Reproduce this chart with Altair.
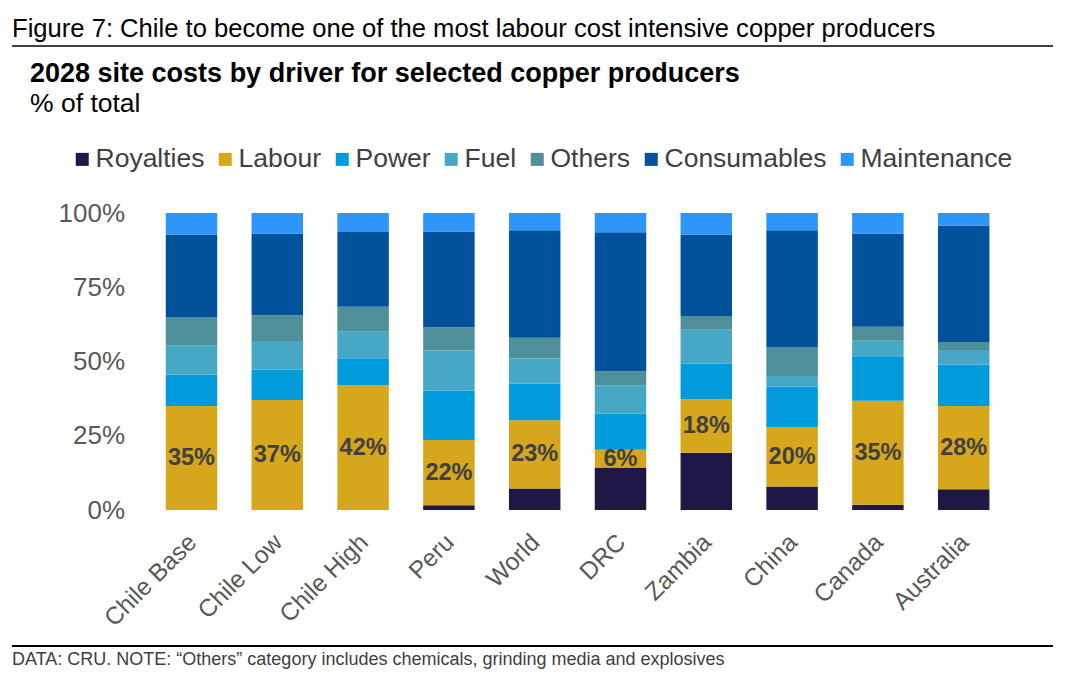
import altair as alt
import pandas as pd

countries = ["Chile Base", "Chile Low", "Chile High", "Peru", "World",
             "DRC", "Zambia", "China", "Canada", "Australia"]
drivers = ["Royalties", "Labour", "Power", "Fuel", "Others", "Consumables", "Maintenance"]
colors = ["#211746", "#D6A61C", "#009BDC", "#47A8C6", "#4E8F99", "#00529B", "#2E96F8"]

royalties   = [0.0, 0.0, 0.0, 1.6, 7.2, 14.3, 19.3, 7.9, 1.8, 7.0]
labour      = [35, 37, 42, 22, 23, 6, 18, 20, 35, 28]
power       = [10.5, 10.2, 9.1, 16.6, 12.4, 12.2, 12.0, 13.7, 15.0, 14.0]
fuel        = [10.0, 9.7, 9.1, 13.5, 8.4, 9.5, 11.4, 3.5, 5.2, 4.9]
others      = [9.3, 8.7, 8.2, 7.8, 7.0, 4.7, 4.6, 9.6, 4.7, 2.7]
consumables = [28.0, 27.4, 25.2, 32.3, 36.2, 46.8, 27.5, 39.5, 31.4, 39.2]
maintenance = [7.2, 7.0, 6.4, 6.2, 5.8, 6.5, 7.2, 5.8, 6.9, 4.2]

series = [royalties, labour, power, fuel, others, consumables, maintenance]

rows = []
for di, (d, vals) in enumerate(zip(drivers, series)):
    for c, v in zip(countries, vals):
        rows.append({"country": c, "driver": d, "order": di, "value": v})
df = pd.DataFrame(rows)

lab = pd.DataFrame({
    "country": countries,
    "labour": labour,
    "ypos": [(r + l / 2) / sum(s[i] for s in series) for i, (r, l) in enumerate(zip(royalties, labour))],
})
lab["text"] = lab["labour"].astype(str) + "%"

FONT = "Liberation Sans"
W, H = 858, 297
PL, PT = 140.6, 205
TOTW, TOTH = 1050, 664

x_enc = alt.X("country:N", sort=countries, title=None,
              scale=alt.Scale(paddingInner=0.4, paddingOuter=0.2),
              axis=alt.Axis(labelAngle=-45, labelFontSize=24.5, labelColor="#595959",
                            labelFont=FONT, domain=False, ticks=False, labelPadding=20,
                            labelOffset=-7, labelBaseline="top", labelAlign="right"))

bars = alt.Chart(df).mark_bar().encode(
    x=x_enc,
    y=alt.Y("sum(value):Q", stack="normalize", title=None,
            scale=alt.Scale(domain=[0, 1], nice=False),
            axis=alt.Axis(values=[0, 0.25, 0.5, 0.75, 1], format=".0%", labelFontSize=26,
                          labelColor="#595959", labelFont=FONT, domain=False, ticks=False,
                          grid=False, labelPadding=24)),
    color=alt.Color("driver:N", scale=alt.Scale(domain=drivers, range=colors),
                    legend=alt.Legend(title=None, orient="none", direction="horizontal",
                                      legendX=76 - 8 - PL - 7, legendY=160 - 8 - PT - 14,
                                      padding=0, symbolType="square",
                                      symbolSize=169, symbolStrokeWidth=0,
                                      labelFontSize=26.5, labelFont=FONT, labelColor="#404040",
                                      labelOffset=0, columnPadding=7, columns=7,
                                      labelLimit=400)),
    order=alt.Order("order:Q", sort="ascending"),
)

labels = alt.Chart(lab).mark_text(fontSize=23.5, fontWeight="bold", font=FONT,
                                  color="#404040", baseline="middle").encode(
    x=alt.X("country:N", sort=countries),
    y=alt.Y("ypos:Q"),
    text="text:N",
)

one = pd.DataFrame({"k": [0]})

def txt(s, x, y, size, weight="normal", color="black"):
    return alt.Chart(pd.DataFrame({"t": [s]})).mark_text(
        align="left", baseline="alphabetic", fontSize=size, fontWeight=weight,
        font=FONT, color=color).encode(x=alt.value(x), y=alt.value(y), text="t:N")

fig_title = txt("Figure 7: Chile to become one of the most labour cost intensive copper producers",
                12 - 8 - PL, 37 - 8 - PT, 25.6)
title = txt("2028 site costs by driver for selected copper producers", 30 - 8 - PL, 82 - 8 - PT, 27, "bold")
subtitle = txt("% of total", 30 - 8 - PL, 112 - 8 - PT, 26.5)
footer = txt("DATA: CRU. NOTE: \u201cOthers\u201d category includes chemicals, grinding media and explosives",
             12 - 8 - PL, 665 - 8 - PT, 18, color="#404040")

top_rule = alt.Chart(one).mark_rule(color="black", strokeWidth=1.5).encode(
    x=alt.value(12 - 8 - PL), x2=alt.value(1053 - 8 - PL), y=alt.value(46 - 8 - PT))
bot_rule = alt.Chart(one).mark_rule(color="black", strokeWidth=2).encode(
    x=alt.value(12 - 8 - PL), x2=alt.value(1053 - 8 - PL), y=alt.value(646 - 8 - PT))

chart = alt.layer(bars, labels, fig_title, title, subtitle, footer, top_rule, bot_rule).properties(
    width=W, height=H,
    background="white",
    autosize=alt.AutoSizeParams(type="none"),
    padding={"left": PL, "top": PT, "right": TOTW - PL - W, "bottom": TOTH - PT - H},
).configure_view(stroke=None)

chart.save("out.html", embed_options={"renderer": "svg", "actions": False})
